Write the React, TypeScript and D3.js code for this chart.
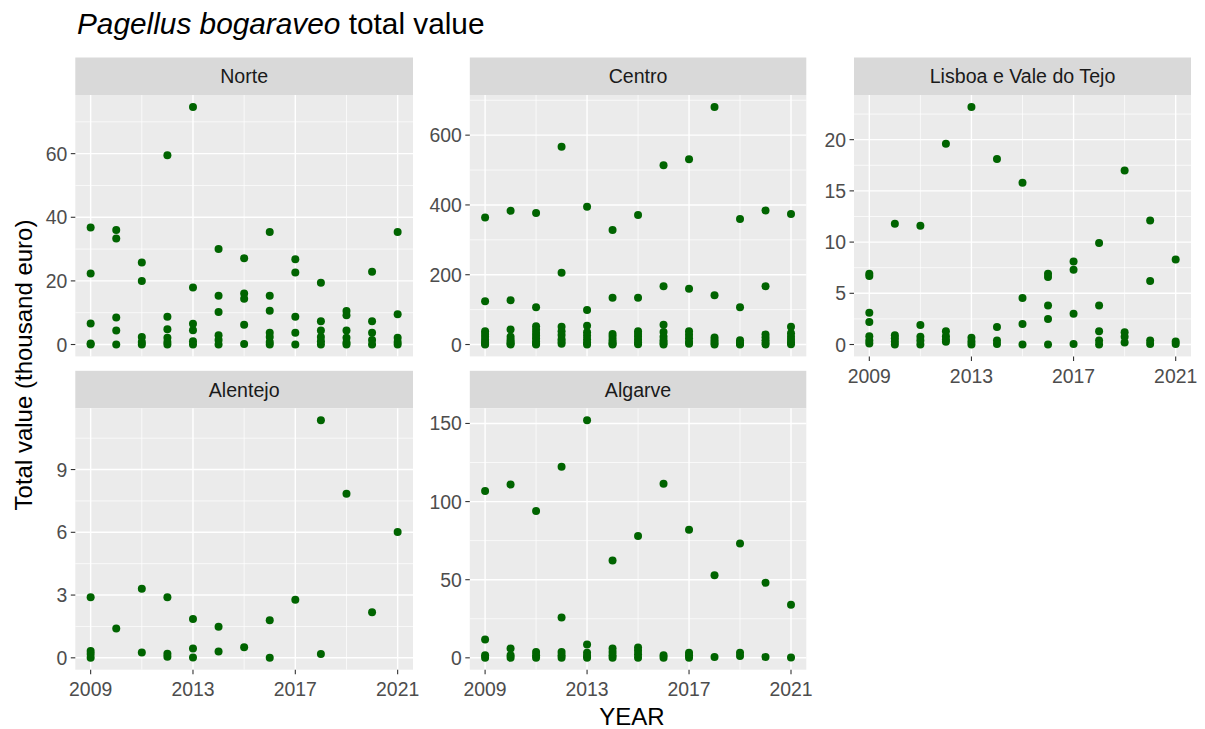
import React from "react";
import * as d3 from "d3";

const years = [2009, 2010, 2011, 2012, 2013, 2014, 2015, 2016, 2017, 2018, 2019, 2020, 2021];
const xTicks = [2009, 2013, 2017, 2021];
const xMinor = [2011, 2015, 2019];

const norteValues: number[][] = [
  [36.8, 22.3, 6.6, 0.3, 0],
  [36.0, 33.3, 8.5, 4.4, 0],
  [25.8, 20.0, 2.4, 0.8, 0],
  [59.5, 8.7, 4.8, 2.1, 0.8, 0],
  [74.7, 17.9, 6.5, 4.5, 1.0, 0],
  [30.0, 15.3, 10.2, 2.9, 1.4, 0],
  [27.1, 16.0, 14.4, 6.2, 0.2],
  [35.4, 15.3, 10.6, 3.7, 2.4, 0.8, 0],
  [26.8, 22.6, 8.7, 3.7, 0],
  [19.4, 7.3, 4.4, 2.4, 1.0, 0],
  [10.5, 9.2, 4.4, 2.1, 0.6, 0],
  [22.9, 7.3, 3.7, 1.4, 0],
  [35.4, 9.5, 2.1, 0.8, 0],
];

const centroValues: number[][] = [
  [364, 124, 38, 30, 22, 14, 7, 2, 0],
  [383, 127, 43, 22, 14, 8, 3, 0],
  [377, 107, 52, 42, 33, 25, 17, 9, 3, 0],
  [567, 206, 51, 38, 27, 15, 8, 2],
  [395, 99, 54, 35, 25, 15, 6, 0],
  [328, 134, 30, 22, 14, 7, 2, 0],
  [371, 134, 38, 30, 22, 14, 6, 1],
  [514, 167, 57, 36, 22, 12, 5, 0],
  [531, 160, 38, 28, 18, 8, 2],
  [681, 141, 20, 12, 5, 0],
  [360, 107, 12, 6, 2, 0],
  [384, 167, 29, 20, 12, 5, 0],
  [374, 51, 32, 22, 14, 6, 1],
];

const lisboaValues: number[][] = [
  [6.9, 6.7, 3.1, 2.2, 0.8, 0.4, 0.1],
  [11.8, 0.9, 0.6, 0.3, 0],
  [11.6, 1.9, 0.75, 0.4, 0],
  [19.6, 1.3, 0.8, 0.5, 0.26],
  [23.2, 0.65, 0.3, 0],
  [18.1, 1.7, 0.4, 0.06],
  [15.8, 4.55, 2.0, 0],
  [6.9, 6.6, 3.8, 2.5, 0],
  [8.1, 7.3, 3.0, 0.06],
  [9.9, 3.8, 1.3, 0.4, 0],
  [17.0, 1.2, 0.75, 0.2],
  [12.1, 6.2, 0.4, 0.06],
  [8.3, 0.3, 0.06],
];

const alentejoValues: number[][] = [
  [2.9, 0.33, 0.18, 0],
  [1.4],
  [3.3, 0.25],
  [2.9, 0.2, 0.05],
  [1.85, 0.45, 0.02],
  [1.48, 0.3],
  [0.5],
  [1.8, 0],
  [2.77],
  [11.36, 0.18],
  [7.84],
  [2.18],
  [6.02],
];

const algarveValues: number[][] = [
  [106.7, 11.7, 1.7, 0],
  [110.9, 6.0, 1.7, 0],
  [93.9, 3.8, 1.7, 0],
  [122.3, 25.8, 3.8, 1.7, 0],
  [152.1, 8.5, 3.2, 1.1, 0],
  [62.3, 6.0, 3.8, 1.7, 0],
  [77.9, 6.6, 4.5, 2.3, 0],
  [111.4, 1.7, 0],
  [81.9, 3.2, 1.7, 0],
  [52.9, 0.6],
  [73.2, 3.2, 1.1],
  [48.0, 0.6],
  [33.9, 0.2],
];

const norteTicks = [0, 20, 40, 60];
const centroTicks = [0, 200, 400, 600];
const lisboaTicks = [0, 5, 10, 15, 20];
const alentejoTicks = [0, 3, 6, 9];
const algarveTicks = [0, 50, 100, 150];

const panels = [
  { name: "Norte", values: norteValues, ticks: norteTicks, col: 0, row: 0, xAxis: false },
  { name: "Centro", values: centroValues, ticks: centroTicks, col: 1, row: 0, xAxis: false },
  { name: "Lisboa e Vale do Tejo", values: lisboaValues, ticks: lisboaTicks, col: 2, row: 0, xAxis: true },
  { name: "Alentejo", values: alentejoValues, ticks: alentejoTicks, col: 0, row: 1, xAxis: true },
  { name: "Algarve", values: algarveValues, ticks: algarveTicks, col: 1, row: 1, xAxis: true },
];

const colRanges: [number, number][] = [[75.3, 413], [469.8, 806.3], [854, 1191]];
const rowRanges: [number, number][] = [[95, 356.4], [408.3, 669.7]];
const stripH = 37.5;

const FONT = "'Liberation Sans', Arial, sans-serif";
const POINT = "#006400";

function Panel({ p }: { p: typeof panels[number] }) {
  const [x0, x1] = colRanges[p.col];
  const [y0, y1] = rowRanges[p.row];
  const allVals = p.values.flat();
  const [mn, mx] = d3.extent(allVals) as [number, number];
  const pad = (mx - mn) * 0.05;
  const yScale = d3.scaleLinear().domain([mn - pad, mx + pad]).range([y1, y0]);
  const xPad = (years[years.length - 1] - years[0]) * 0.05;
  const xScale = d3.scaleLinear().domain([years[0] - xPad, years[years.length - 1] + xPad]).range([x0, x1]);
  const step = p.ticks[1] - p.ticks[0];
  const minor: number[] = [];
  const ext = [p.ticks[0] - step, ...p.ticks, p.ticks[p.ticks.length - 1] + step];
  for (let i = 0; i < ext.length - 1; i++) {
    const v = (ext[i] + ext[i + 1]) / 2;
    if (v >= yScale.domain()[0] && v <= yScale.domain()[1]) minor.push(v);
  }
  const pts: { x: number; y: number }[] = [];
  p.values.forEach((vals, i) => vals.forEach((v) => pts.push({ x: years[i], y: v })));
  return (
    <g>
      <rect x={x0} y={y0 - stripH} width={x1 - x0} height={stripH} fill="#D9D9D9" />
      <text x={(x0 + x1) / 2} y={y0 - stripH / 2} dy="0.36em" textAnchor="middle" fontSize={19.6} fill="#1A1A1A" fontFamily={FONT}>
        {p.name}
      </text>
      <rect x={x0} y={y0} width={x1 - x0} height={y1 - y0} fill="#EBEBEB" />
      {minor.map((v) => (
        <line key={"ym" + v} x1={x0} x2={x1} y1={yScale(v)} y2={yScale(v)} stroke="#fff" strokeWidth={0.7} />
      ))}
      {xMinor.map((v) => (
        <line key={"xm" + v} x1={xScale(v)} x2={xScale(v)} y1={y0} y2={y1} stroke="#fff" strokeWidth={0.7} />
      ))}
      {p.ticks.map((v) => (
        <line key={"y" + v} x1={x0} x2={x1} y1={yScale(v)} y2={yScale(v)} stroke="#fff" strokeWidth={1.4} />
      ))}
      {xTicks.map((v) => (
        <line key={"x" + v} x1={xScale(v)} x2={xScale(v)} y1={y0} y2={y1} stroke="#fff" strokeWidth={1.4} />
      ))}
      {pts.map((d, i) => (
        <circle key={i} cx={xScale(d.x)} cy={yScale(d.y)} r={4} fill={POINT} />
      ))}
      {p.ticks.map((v) => (
        <g key={"yt" + v}>
          <line x1={x0 - 4.5} x2={x0} y1={yScale(v)} y2={yScale(v)} stroke="#333333" strokeWidth={1.1} />
          <text x={x0 - 8} y={yScale(v)} dy="0.36em" textAnchor="end" fontSize={19.4} fill="#4D4D4D" fontFamily={FONT}>
            {v}
          </text>
        </g>
      ))}
      {p.xAxis &&
        xTicks.map((v) => (
          <g key={"xt" + v}>
            <line x1={xScale(v)} x2={xScale(v)} y1={y1} y2={y1 + 4.5} stroke="#333333" strokeWidth={1.1} />
            <text x={xScale(v)} y={y1 + 26.5} textAnchor="middle" fontSize={19.4} fill="#4D4D4D" fontFamily={FONT}>
              {v}
            </text>
          </g>
        ))}
    </g>
  );
}

export default function App() {
  return (
    <svg width={1205} height={729} style={{ position: "absolute", left: 0, top: 0, background: "#fff" }}>
      <rect width={1205} height={729} fill="#fff" />
      <text x={77} y={34} fontSize={29.8} fill="#000" fontFamily={FONT}>
        <tspan fontStyle="italic">Pagellus bogaraveo</tspan>
        <tspan> total value</tspan>
      </text>
      {panels.map((p) => (
        <Panel key={p.name} p={p} />
      ))}
      <text x={632} y={725} textAnchor="middle" fontSize={24} fill="#000" fontFamily={FONT}>
        YEAR
      </text>
      <text transform="translate(32,365) rotate(-90)" textAnchor="middle" fontSize={24} fill="#000" fontFamily={FONT}>
        Total value (thousand euro)
      </text>
    </svg>
  );
}
